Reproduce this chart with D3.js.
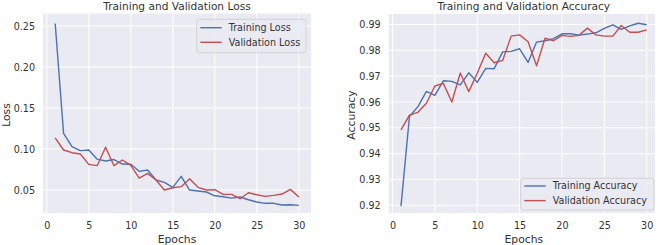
<!DOCTYPE html>
<html>
<head>
<meta charset="utf-8">
<script src="https://cdn.jsdelivr.net/npm/d3@7"></script>
<style>
  body { margin: 0; background: #fff; }
  svg text { font-family: "DejaVu Sans", sans-serif; fill: #333; }
</style>
</head>
<body>
<div id="chart"></div>
<script>
// epochs 1..30
var epochs = d3.range(1, 31);

var trainLoss = [0.253, 0.119, 0.103, 0.098, 0.0988, 0.0876, 0.0854, 0.0872, 0.0817, 0.0815,
  0.0728, 0.0744, 0.0622, 0.0594, 0.0533, 0.0667, 0.050, 0.0488, 0.0476, 0.043,
  0.0418, 0.0402, 0.0415, 0.0382, 0.0354, 0.0338, 0.0338, 0.0317, 0.032, 0.0313];
var valLoss = [0.1135, 0.0988, 0.0955, 0.0939, 0.0813, 0.0797, 0.1022, 0.0797, 0.0866, 0.080,
  0.0646, 0.0703, 0.0622, 0.050, 0.0528, 0.0541, 0.0638, 0.0533, 0.050, 0.0504,
  0.0447, 0.0447, 0.0394, 0.0467, 0.0443, 0.0423, 0.0435, 0.0451, 0.0508, 0.0415];

var trainAcc = [0.9197, 0.9544, 0.9582, 0.9641, 0.9626, 0.9682, 0.968, 0.9666, 0.9713, 0.9676,
  0.973, 0.9729, 0.9794, 0.9796, 0.9806, 0.9753, 0.9832, 0.9837, 0.9845, 0.9864,
  0.9864, 0.9859, 0.9863, 0.9868, 0.9885, 0.9899, 0.9881, 0.9895, 0.9905, 0.9899];
var valAcc = [0.9492, 0.9549, 0.956, 0.9595, 0.9662, 0.9672, 0.960, 0.9712, 0.964, 0.9711,
  0.9789, 0.9752, 0.9761, 0.9855, 0.986, 0.9833, 0.974, 0.9847, 0.9837, 0.9858,
  0.9854, 0.9858, 0.9886, 0.986, 0.9855, 0.9855, 0.9896, 0.987, 0.987, 0.9879];

var xTicks = [0, 5, 10, 15, 20, 25, 30];
var lossTicks = [0.05, 0.10, 0.15, 0.20, 0.25];
var accTicks = [0.92, 0.93, 0.94, 0.95, 0.96, 0.97, 0.98, 0.99];

var blue = "#4C72B0", red = "#C44E52";

var svg = d3.select("#chart").append("svg")
  .attr("width", 660).attr("height", 245);

function panel(opt) {
  var x = d3.scaleLinear().domain([-0.45, 31.45]).range(opt.xr);
  var y = d3.scaleLinear().domain(opt.yd).range([213, opt.top]);
  var g = svg.append("g");
  var right = opt.clip || opt.xr[1];

  g.append("rect")
    .attr("x", opt.xr[0]).attr("y", opt.top)
    .attr("width", right - opt.xr[0]).attr("height", 213 - opt.top)
    .attr("fill", "#EAEAF2");

  // grid
  g.selectAll(".vg").data(xTicks).enter().append("line")
    .attr("x1", d => x(d)).attr("x2", d => x(d))
    .attr("y1", opt.top).attr("y2", 213)
    .attr("stroke", "#fff").attr("stroke-width", 1);
  g.selectAll(".hg").data(opt.ticks).enter().append("line")
    .attr("x1", opt.xr[0]).attr("x2", right)
    .attr("y1", d => y(d)).attr("y2", d => y(d))
    .attr("stroke", "#fff").attr("stroke-width", 1);

  // axes
  var xa = g.append("g").attr("transform", "translate(0,213)")
    .call(d3.axisBottom(x).tickValues(xTicks).tickSize(0).tickPadding(9));
  var ya = g.append("g").attr("transform", "translate(" + opt.xr[0] + ",0)")
    .call(d3.axisLeft(y).tickValues(opt.ticks).tickSize(0).tickPadding(8)
      .tickFormat(d3.format(".2f")));
  [xa, ya].forEach(function(a) {
    a.select(".domain").remove();
    a.selectAll("text").style("font-size", "9.6px").attr("fill", "#333");
  });

  var line = d3.line().x((d, i) => x(epochs[i])).y(d => y(d));
  [[opt.train, blue], [opt.val, red]].forEach(function(s) {
    g.append("path").datum(s[0])
      .attr("d", line).attr("fill", "none")
      .attr("stroke", s[1]).attr("stroke-width", 1.4)
      .attr("stroke-linejoin", "round");
  });

  var cx = (opt.xr[0] + opt.xr[1]) / 2;
  g.append("text").attr("x", cx).attr("y", 10)
    .attr("text-anchor", "middle").style("font-size", "10.6px").text(opt.title);
  g.append("text").attr("x", cx).attr("y", 242.5)
    .attr("text-anchor", "middle").style("font-size", "10.8px").text("Epochs");
  g.append("text")
    .attr("transform", "translate(" + opt.ylx + ",115) rotate(-90)")
    .attr("text-anchor", "middle").style("font-size", "10.8px").text(opt.ylabel);

  // legend
  var L = opt.legend;
  var lg = g.append("g").attr("transform", "translate(" + L.x + "," + L.y + ")");
  lg.append("rect").attr("width", L.w).attr("height", L.h).attr("rx", 2.5)
    .attr("fill", "#EAEAF2").attr("fill-opacity", 0.8)
    .attr("stroke", "#ccc").attr("stroke-width", 0.8);
  opt.names.forEach(function(n, i) {
    var yy = L.row0 + i * 14.6;
    lg.append("line").attr("x1", 3.6).attr("x2", 25).attr("y1", yy).attr("y2", yy)
      .attr("stroke", [blue, red][i]).attr("stroke-width", 1.4);
    lg.append("text").attr("x", 32).attr("y", yy + 3.4)
      .style("font-size", "9.6px").text(n);
  });
}

panel({
  xr: [43, 311], top: 13.5, yd: [0.022, 0.2652], ticks: lossTicks,
  train: trainLoss, val: valLoss,
  title: "Training and Validation Loss", ylabel: "Loss", ylx: 10,
  names: ["Training Loss", "Validation Loss"],
  legend: {x: 196.7, y: 19.3, w: 109.3, h: 33.4, row0: 8.4}
});

panel({
  xr: [388.7, 659], clip: 655, top: 14, yd: [0.91702, 0.99407], ticks: accTicks,
  train: trainAcc, val: valAcc,
  title: "Training and Validation Accuracy", ylabel: "Accuracy", ylx: 355,
  names: ["Training Accuracy", "Validation Accuracy"],
  legend: {x: 520.7, y: 178.3, w: 133.3, h: 31.7, row0: 7.7}
});
</script>
</body>
</html>
